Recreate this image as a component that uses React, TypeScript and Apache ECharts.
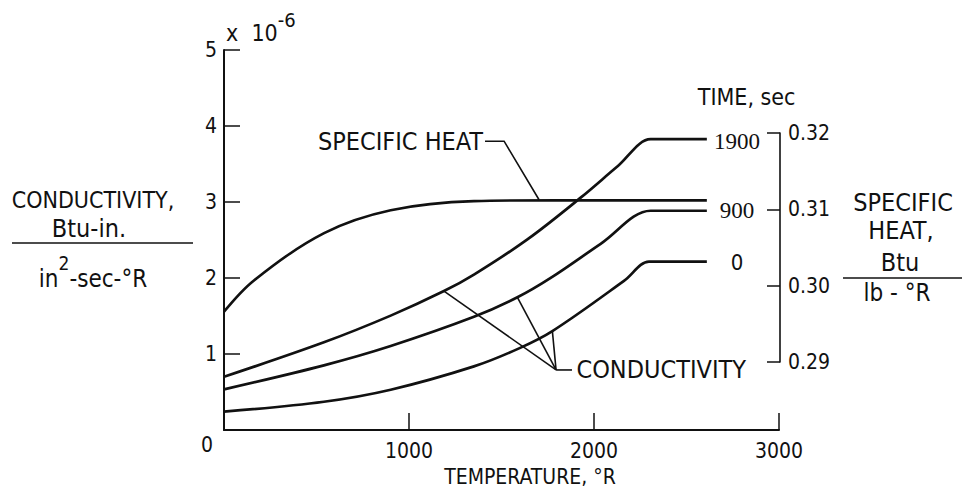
import React, { useEffect, useRef } from "react";
import * as echarts from "echarts";

// ---- data (temperature °R, value) ----
const temperatureTicks = [0, 1000, 2000, 3000];
const conductivityTicks = [0, 1, 2, 3, 4, 5];
const specificHeatTicks = [0.29, 0.3, 0.31, 0.32];

const timeLabels = ["1900", "900", "0"];

const conductivity1900: [number, number][] = [
  [0, 0.7], [540, 1.154], [901, 1.505], [1189, 1.828], [1351, 2.045],
  [1640, 2.508], [1928, 3.057], [2126, 3.466], [2306, 3.826], [2340, 3.826], [2610, 3.826],
];
const conductivity900: [number, number][] = [
  [0, 0.535], [540, 0.851], [901, 1.105], [1351, 1.489], [1586, 1.746], [1766, 2.001],
  [2036, 2.449], [2306, 2.885], [2340, 2.885], [2610, 2.885],
];
const conductivity0: [number, number][] = [
  [0, 0.241], [540, 0.372], [901, 0.53], [1351, 0.837], [1595, 1.074], [1775, 1.301],
  [2162, 1.962], [2297, 2.216], [2330, 2.216], [2610, 2.216],
];
const specificHeat: [number, number][] = [
  [0, 0.2966], [162, 0.3007], [541, 0.3069], [901, 0.3099], [1351, 0.3111],
  [1800, 0.3112], [2610, 0.3112],
];

const FONT = "'DejaVu Sans Condensed', 'Liberation Sans Narrow', 'Liberation Sans', sans-serif";
const SERIF = "'Liberation Serif', 'DejaVu Serif', serif";

export default function App() {
  const ref = useRef<HTMLDivElement>(null);
  useEffect(() => {
    const chart = echarts.init(ref.current!, null, { renderer: "svg" });
    const black = "#111";
    const lineSeries = (name: string, data: [number, number][], yAxisIndex = 0) => ({
      name,
      type: "line",
      data,
      xAxisIndex: 0,
      yAxisIndex,
      symbol: "none",
      smooth: 0.35,
      silent: true,
      lineStyle: { color: black, width: 2.7 },
    });
    chart.setOption({
      animation: false,
      backgroundColor: "#fff",
      grid: [
        { left: 224, right: 183, top: 50, bottom: 66 },
        { left: 600, right: 182, top: 133, bottom: 134 },
      ],
      xAxis: [
        {
          gridIndex: 0,
          type: "value",
          min: temperatureTicks[0],
          max: temperatureTicks[temperatureTicks.length - 1],
          interval: 1000,
          axisLine: { show: true, onZero: false, lineStyle: { color: black, width: 2 } },
          axisTick: { show: true, inside: true, length: 17, lineStyle: { color: black, width: 1.5 } },
          axisLabel: {
            color: black, fontSize: 21, fontFamily: FONT, margin: 10, showMinLabel: false,
            formatter: (v: number) => String(v),
          },
          splitLine: { show: false },
        },
        { gridIndex: 1, type: "value", show: false, min: 0, max: 1 },
      ],
      yAxis: [
        {
          gridIndex: 0,
          type: "value",
          min: conductivityTicks[0],
          max: conductivityTicks[conductivityTicks.length - 1],
          interval: 1,
          axisLine: { show: true, onZero: false, lineStyle: { color: black, width: 2 } },
          axisTick: { show: true, inside: true, length: 16, lineStyle: { color: black, width: 1.5 } },
          axisLabel: { color: black, fontSize: 21, fontFamily: FONT, margin: 7, showMinLabel: false },
          splitLine: { show: false },
        },
        { gridIndex: 0, type: "value", min: 0.2811, max: 0.3309, show: false },
        {
          gridIndex: 1,
          type: "value",
          position: "right",
          min: specificHeatTicks[0],
          max: specificHeatTicks[specificHeatTicks.length - 1],
          interval: 0.01,
          axisLine: { show: true, onZero: false, lineStyle: { color: black, width: 1.6 } },
          axisTick: { show: true, inside: true, length: 13, lineStyle: { color: black, width: 1.5 } },
          axisLabel: {
            color: black, fontSize: 21, fontFamily: FONT, margin: 8,
            formatter: (v: number) => v.toFixed(2),
          },
          splitLine: { show: false },
        },
      ],
      series: [
        lineSeries("1900", conductivity1900),
        lineSeries("900", conductivity900),
        lineSeries("0", conductivity0),
        lineSeries("SPECIFIC HEAT", specificHeat, 1),
      ],
    });

    const px = (p: [number, number]) =>
      chart.convertToPixel({ xAxisIndex: 0, yAxisIndex: 0 }, p) as number[];
    const text = (x: number, y: number, t: string, extra: any = {}) => ({
      type: "text",
      x,
      y,
      silent: true,
      style: {
        text: t, fill: black, fontSize: 21, fontFamily: FONT,
        align: "center", verticalAlign: "middle", ...extra,
      },
    });
    const seg = (a: number[], b: number[], w = 1.6) => ({
      type: "line",
      silent: true,
      shape: { x1: a[0], y1: a[1], x2: b[0], y2: b[1] },
      style: { stroke: black, lineWidth: w },
    });

    const origin = px([0, 0]);
    const top = px([0, 5]);
    const shTextEnd = px([1400, 3.8]);
    const shBend0 = px([1411, 3.8]);
    const shBend1 = px([1514, 3.8]);
    const shTip = px([1703, 3.03]);
    const hub = px([1795, 0.79]);
    const hubEnd = px([1881, 0.79]);
    const condText = px([1905, 0.79]);
    const tip1900 = px([1189, 1.828]);
    const tip900 = px([1586, 1.746]);
    const tip0 = px([1775, 1.301]);
    const lab1900 = px([2773, 3.8]);
    const lab900 = px([2773, 2.89]);
    const lab0 = px([2773, 2.2]);
    const labTime = px([2825, 4.38]);

    chart.setOption({
      graphic: [
        text(origin[0] - 17, origin[1] + 15, "0"),
        {
          type: "text", x: top[0] + 2, y: top[1] - 23, silent: true,
          style: {
            text: "{a|x  10}{b|-6}", fill: black, fontFamily: FONT,
            align: "left", verticalAlign: "middle",
            rich: {
              a: { fontSize: 23, lineHeight: 34, verticalAlign: "bottom", fontFamily: FONT },
              b: { fontSize: 20, lineHeight: 34, verticalAlign: "top", fontFamily: FONT },
            },
          },
        },
        // left axis title
        text(93, 200, "CONDUCTIVITY,", { fontSize: 23 }),
        text(89, 228, "Btu-in.", { fontSize: 25 }),
        seg([12, 243], [193, 243], 1.6),
        {
          type: "text", x: 93, y: 272, silent: true,
          style: {
            text: "{n|in}{s|2}{n|-sec-°R}", fill: black, fontFamily: FONT,
            align: "center", verticalAlign: "middle",
            rich: {
              n: { fontSize: 24, lineHeight: 38, verticalAlign: "bottom", fontFamily: FONT },
              s: { fontSize: 19, lineHeight: 38, verticalAlign: "top", fontFamily: FONT },
            },
          },
        },
        // right axis title
        text(903, 202, "SPECIFIC", { fontSize: 25 }),
        text(901, 230, "HEAT,", { fontSize: 25 }),
        text(900, 262, "Btu", { fontSize: 25 }),
        seg([843, 278], [962, 278], 1.6),
        text(897, 293, "lb - °R", { fontSize: 24 }),
        // x axis title
        text(530, 477, "TEMPERATURE, °R", { fontSize: 21 }),
        // time labels
        text(labTime[0], labTime[1], "TIME, sec", { fontSize: 23 }),
        text(lab1900[0], lab1900[1], timeLabels[0], { fontFamily: SERIF, fontSize: 23 }),
        text(lab900[0], lab900[1], timeLabels[1], { fontFamily: SERIF, fontSize: 23 }),
        text(lab0[0], lab0[1], timeLabels[2], { fontSize: 22 }),
        // specific heat annotation
        text(shTextEnd[0], shTextEnd[1], "SPECIFIC HEAT", { align: "right", fontSize: 25 }),
        {
          type: "polyline", silent: true,
          shape: { points: [shBend0, shBend1, shTip] },
          style: { stroke: black, lineWidth: 1.6, fill: null },
        },
        // conductivity annotation
        text(condText[0], condText[1], "CONDUCTIVITY", { align: "left", fontSize: 25 }),
        seg(hub, hubEnd),
        seg(hub, tip1900),
        seg(hub, tip900),
        seg(hub, tip0),
      ],
    });
    return () => chart.dispose();
  }, []);
  return (
    <div
      ref={ref}
      style={{ position: "fixed", left: 0, top: 0, width: 962, height: 496, background: "#fff" }}
    />
  );
}
